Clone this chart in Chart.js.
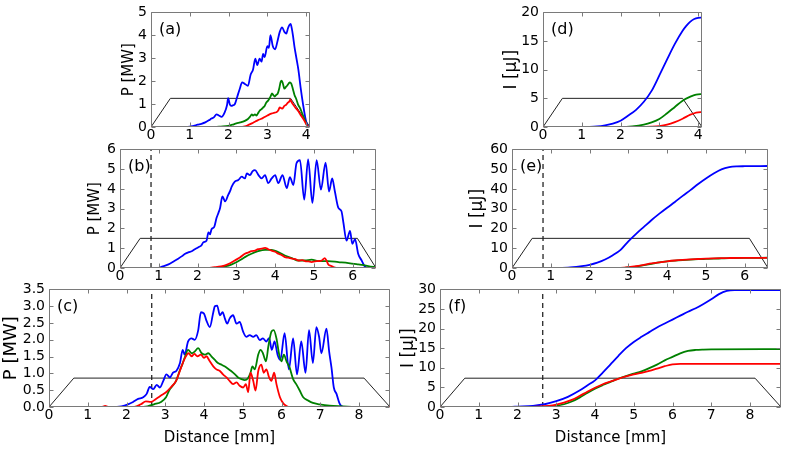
<!DOCTYPE html>
<html><head><meta charset="utf-8">
<script src="https://cdn.jsdelivr.net/npm/chart.js@4.4.0/dist/chart.umd.min.js"></script>
<style>
html,body{margin:0;padding:0;background:#fff;overflow:hidden;width:787px;height:449px;position:relative}
canvas{position:absolute}
</style></head><body>
<script>
// ---------- Panel (a): P [MW] ----------
const aBlueX = [0,0.95,1.1,1.2,1.3,1.4,1.5,1.56,1.62,1.69,1.75,1.82,1.9,1.96,1.99,2.03,2.07,2.12,2.16,2.22,2.29,2.35,2.42,2.5,2.57,2.63,2.69,2.74,2.8,2.85,2.89,2.93,3.0,3.04,3.08,3.14,3.2,3.26,3.32,3.38,3.44,3.49,3.53,3.57,3.6,3.63,3.66,3.7,3.75,3.8,3.86,3.92,3.98,4.04,4.1];
const aBlueY = [0,0,0.05,0.1,0.14,0.2,0.3,0.37,0.42,0.55,0.5,0.44,0.64,0.95,1.26,1.0,0.92,0.95,0.99,1.3,1.67,1.95,1.88,1.8,2.29,2.5,2.98,2.7,2.98,2.85,3.19,3.05,3.53,3.45,4.01,3.53,3.39,3.73,4.15,4.35,4.15,4.08,4.3,4.45,4.5,4.3,4.0,3.5,3.0,2.5,1.7,1.0,0.4,0.05,0];
const aGreenX = [0,1.65,1.8,1.99,2.1,2.2,2.3,2.42,2.5,2.55,2.6,2.63,2.68,2.72,2.76,2.8,2.85,2.89,2.93,2.97,3.02,3.06,3.1,3.12,3.16,3.19,3.23,3.27,3.31,3.34,3.37,3.4,3.44,3.48,3.51,3.55,3.58,3.62,3.66,3.7,3.75,3.79,3.85,3.92,3.98,4.04,4.1];
const aGreenY = [0,0,0.02,0.05,0.1,0.16,0.2,0.27,0.35,0.44,0.55,0.5,0.55,0.5,0.6,0.71,0.78,0.85,0.92,1.06,1.15,1.26,1.4,1.47,1.38,1.33,1.4,1.47,1.7,1.95,2.02,1.9,1.67,1.75,1.8,1.9,1.95,1.88,1.65,1.4,1.2,0.99,0.8,0.5,0.25,0.02,0];
const aRedX = [0,2.3,2.42,2.5,2.6,2.7,2.76,2.85,2.93,3.0,3.1,3.17,3.23,3.28,3.32,3.38,3.44,3.49,3.53,3.57,3.59,3.62,3.66,3.72,3.79,3.85,3.92,3.98,4.04,4.1];
const aRedY = [0,0,0.03,0.08,0.16,0.25,0.3,0.36,0.44,0.5,0.58,0.62,0.64,0.72,0.85,0.8,0.92,0.98,1.06,1.12,1.2,1.1,0.99,0.85,0.71,0.55,0.37,0.2,0.03,0];

// ---------- Panel (d): I [uJ] ----------
const dBlueX = [0,1.0,1.2,1.4,1.6,1.8,2.0,2.2,2.4,2.6,2.8,3.0,3.2,3.4,3.6,3.7,3.8,3.9,4.0,4.1];
const dBlueY = [0,0,0.02,0.1,0.3,0.6,1.1,2.0,3.0,4.4,6.3,9.0,11.8,14.5,16.8,17.7,18.4,18.85,19.05,19.1];
const dGreenX = [0,2.0,2.3,2.6,2.8,3.0,3.2,3.4,3.6,3.8,3.9,4.0,4.1];
const dGreenY = [0,0,0.1,0.4,0.8,1.4,2.4,3.5,4.6,5.3,5.55,5.7,5.75];
const dRedX = [0,2.5,2.8,3.0,3.2,3.4,3.6,3.8,3.9,4.0,4.1];
const dRedY = [0,0,0.05,0.15,0.4,0.85,1.45,2.15,2.4,2.55,2.6];

// ---------- Panel (b): P [MW] ----------
const bBlueX = [0,0.95,1.1,1.25,1.4,1.5,1.6,1.68,1.77,1.85,1.93,2.02,2.1,2.15,2.23,2.28,2.32,2.36,2.43,2.49,2.54,2.58,2.64,2.71,2.79,2.84,2.88,2.96,3.05,3.14,3.22,3.27,3.35,3.42,3.48,3.57,3.65,3.74,3.82,3.91,4.0,4.08,4.19,4.3,4.38,4.47,4.55,4.64,4.75,4.85,4.96,5.07,5.18,5.3,5.39,5.47,5.54,5.63,5.71,5.76,5.84,5.93,5.99,6.06,6.14,6.23,6.31,6.4,6.6];
const bBlueY = [0,0,0.08,0.18,0.35,0.47,0.6,0.72,0.8,0.85,0.95,1.05,1.15,1.3,1.38,1.8,1.7,1.96,2.08,2.54,2.8,3.04,3.62,3.37,3.7,3.9,4.12,4.37,4.45,4.62,4.53,4.78,4.7,4.9,4.95,4.7,4.53,4.7,4.29,4.53,4.7,4.29,4.7,4.04,4.6,4.2,5.3,5.45,3.46,5.5,3.29,5.45,3.96,5.33,3.87,4.53,3.87,3.04,2.87,2.29,1.38,1.88,1.22,1.46,0.72,0.38,0.08,0,0];
const bGreenX = [0,2.4,2.6,2.8,2.96,3.1,3.22,3.39,3.56,3.74,3.91,4.08,4.25,4.43,4.6,4.77,4.94,5.11,5.37,5.63,5.89,6.14,6.4,6.6];
const bGreenY = [0,0,0.05,0.12,0.25,0.4,0.55,0.72,0.85,0.92,0.92,0.8,0.63,0.5,0.38,0.38,0.42,0.35,0.35,0.3,0.25,0.18,0.1,0.03];
const bRedX = [0,2.25,2.45,2.6,2.71,2.85,2.96,3.1,3.22,3.3,3.39,3.48,3.56,3.65,3.74,3.82,3.91,4.0,4.08,4.17,4.25,4.34,4.43,4.52,4.6,4.7,4.77,4.86,4.94,5.03,5.11,5.2,5.28,5.33,5.37,5.45,5.5,5.63,6.6];
const bRedY = [0,0,0.04,0.08,0.13,0.25,0.38,0.55,0.72,0.78,0.85,0.88,0.95,0.98,1.02,0.95,0.88,0.82,0.72,0.65,0.55,0.52,0.47,0.45,0.38,0.4,0.35,0.33,0.3,0.34,0.35,0.38,0.5,0.35,0.18,0.1,0.05,0,0];

// ---------- Panel (e): I [uJ] ----------
const eBlueX = [0,1.0,1.2,1.5,1.8,2.0,2.2,2.4,2.6,2.8,3.0,3.2,3.4,3.6,3.8,4.0,4.2,4.4,4.6,4.8,5.0,5.2,5.4,5.6,5.8,6.0,6.6];
const eBlueY = [0,0,0.05,0.3,0.9,1.6,2.7,4.3,6.5,9.2,13.5,17.3,20.8,24.3,27.5,30.5,33.4,36.5,39.4,42.5,45.3,47.8,49.9,51.0,51.4,51.5,51.6];
const eGreenX = [0,2.5,2.9,3.0,3.2,3.4,3.6,3.8,4.0,4.2,4.4,4.6,4.8,5.0,5.2,5.4,5.6,6.0,6.6];
const eGreenY = [0,0,0.1,0.25,0.7,1.4,2.1,2.8,3.3,3.7,4.0,4.25,4.45,4.6,4.75,4.85,4.95,5.1,5.2];
const eRedX = [0,2.4,2.8,3.0,3.2,3.4,3.6,3.8,4.0,4.2,4.4,4.6,4.8,5.0,5.2,5.4,5.6,6.0,6.6];
const eRedY = [0,0,0.1,0.4,0.9,1.6,2.3,2.9,3.4,3.8,4.1,4.35,4.55,4.75,4.9,5.0,5.05,5.1,5.1];

// ---------- Panel (c): P [MW] ----------
const cBlueX = [0,1.6,1.87,2.04,2.17,2.3,2.43,2.52,2.6,2.69,2.78,2.86,2.95,3.03,3.12,3.2,3.29,3.38,3.45,3.5,3.59,3.68,3.76,3.85,3.92,4.0,4.06,4.15,4.24,4.28,4.34,4.41,4.48,4.54,4.6,4.66,4.75,4.84,4.92,5.01,5.09,5.18,5.27,5.35,5.44,5.52,5.61,5.68,5.75,5.82,5.9,5.97,6.08,6.19,6.3,6.4,6.51,6.62,6.71,6.81,6.9,6.97,7.03,7.16,7.23,7.29,7.35,7.42,7.5,7.59,8.8];
const cBlueY = [0,0,0.02,0.08,0.15,0.24,0.29,0.39,0.6,0.53,0.66,0.58,0.78,0.97,0.88,1.02,1.08,1.31,1.7,1.56,1.95,2.04,2.0,2.28,2.82,2.78,2.58,2.38,2.82,3.0,3.02,2.73,2.82,2.63,2.48,2.63,2.73,2.48,2.53,2.24,2.09,2.14,2.09,2.14,1.99,2.04,1.95,2.05,1.7,1.95,1.55,1.4,2.2,1.12,2.04,0.97,1.95,1.02,2.29,1.31,2.38,2.09,1.6,2.33,1.65,1.17,0.58,0.39,0.1,0,0];
const cGreenX = [0,2.3,2.54,2.71,2.89,3.02,3.1,3.19,3.28,3.38,3.45,3.5,3.59,3.68,3.76,3.85,3.94,4.02,4.11,4.19,4.28,4.36,4.45,4.53,4.62,4.7,4.8,4.88,4.97,5.05,5.13,5.2,5.25,5.31,5.4,5.46,5.52,5.6,5.66,5.74,5.8,5.87,5.94,6.0,6.06,6.13,6.21,6.3,6.38,6.47,6.56,6.69,6.81,6.98,7.24,7.59,7.9,8.8];
const cGreenY = [0,0,0.02,0.08,0.15,0.29,0.49,0.63,0.78,1.1,1.3,1.46,1.7,1.6,1.65,1.75,1.6,1.56,1.6,1.51,1.4,1.31,1.26,1.21,1.14,1.07,0.97,0.88,0.83,0.8,0.85,1.02,1.21,1.12,1.56,1.7,1.6,1.36,1.8,2.24,2.29,2.04,1.56,1.36,1.56,1.36,1.17,0.83,0.68,0.49,0.29,0.19,0.12,0.08,0.04,0.02,0,0];
const cRedX = [0,1.35,1.45,1.55,2.2,2.37,2.5,2.63,2.76,2.89,3.02,3.14,3.28,3.36,3.42,3.51,3.6,3.68,3.75,3.83,3.92,4.0,4.06,4.15,4.24,4.32,4.41,4.49,4.58,4.66,4.75,4.84,4.92,5.01,5.08,5.14,5.2,5.27,5.33,5.4,5.48,5.54,5.61,5.68,5.74,5.81,5.87,5.96,6.05,6.13,6.21,8.8];
const cRedY = [0,0,0.03,0,0,0.08,0.17,0.15,0.24,0.34,0.44,0.58,0.78,1.02,1.21,1.46,1.6,1.51,1.58,1.51,1.56,1.46,1.51,1.36,1.21,1.12,1.07,0.97,0.88,0.78,0.68,0.73,0.63,0.58,0.68,0.44,1.02,0.78,0.49,1.07,1.26,1.02,1.12,0.88,0.78,1.02,0.68,0.29,0.1,0.03,0,0];

// ---------- Panel (f): I [uJ] ----------
const fBlueX = [0,1.8,2.0,2.4,2.7,3.0,3.3,3.6,3.8,4.0,4.2,4.4,4.6,4.8,5.0,5.2,5.4,5.6,5.8,6.0,6.2,6.4,6.6,6.8,7.0,7.2,7.4,7.6,8.8];
const fBlueY = [0,0,0.1,0.3,0.7,1.5,2.6,4.2,5.5,6.8,8.8,10.9,13.0,15.0,16.6,17.9,19.1,20.3,21.3,22.3,23.3,24.3,25.2,26.3,27.5,28.8,29.6,29.8,29.8];
const fGreenX = [0,2.4,2.8,3.0,3.2,3.4,3.6,3.8,4.0,4.2,4.4,4.6,4.8,5.0,5.2,5.4,5.6,5.8,6.0,6.2,6.4,6.6,6.8,7.0,8.8];
const fGreenY = [0,0,0.1,0.3,0.7,1.4,2.4,3.6,4.7,5.6,6.4,7.2,7.9,8.5,9.1,9.9,10.8,11.9,12.8,13.7,14.3,14.55,14.65,14.7,14.75];
const fRedX = [0,2.2,2.5,2.8,3.0,3.2,3.4,3.6,3.8,4.0,4.2,4.4,4.6,4.8,5.0,5.2,5.4,5.6,5.8,6.0,6.2,8.8];
const fRedY = [0,0,0.1,0.3,0.6,1.1,1.8,2.8,3.9,4.9,5.8,6.5,7.2,7.8,8.3,8.7,9.2,9.8,10.4,10.9,11.0,11.0];

// ---------- Trapezoid (electrode profile) and dashed markers ----------
const trapAX = [0,0.5,3.6,4.1],   trapAY = [0,1.25,1.25,0];
const trapDX = [0,0.5,3.6,4.1],   trapDY = [0,5,5,0];
const trapBX = [0,0.52,6.12,6.6], trapBY = [0,1.5,1.5,0];
const trapEX = [0,0.52,6.12,6.6], trapEY = [0,15,15,0];
const trapCX = [0,0.64,8.13,8.8], trapCY = [0,0.86,0.86,0];
const trapFX = [0,0.64,8.13,8.8], trapFY = [0,7.35,7.35,0];
const dashB = [0.8];
const dashC = [2.65];

// ---------- Tick labels ----------
const xTicksA = [0,1,2,3,4];
const xTicksB = [0,1,2,3,4,5,6];
const xTicksC = [0,1,2,3,4,5,6,7,8];
const yTicksA = [0,1,2,3,4,5];
const yTicksD = [0,5,10,15,20];
const yTicksB = [0,1,2,3,4,5,6];
const yTicksE = [0,10,20,30,40,50,60];
const yTicksC = [0,0.5,1.0,1.5,2.0,2.5,3.0,3.5];
const yTicksF = [0,5,10,15,20,25,30];

const FONT = '"DejaVu Sans", sans-serif';
const pts = (xs, ys) => xs.map((x, i) => ({x: x, y: ys[i]}));

const framePlugin = {
  id: 'frame',
  afterDatasetsDraw(chart, args, opts) {
    const {ctx, chartArea: a, scales} = chart;
    ctx.save();
    ctx.strokeStyle = '#7a7a7a';
    ctx.lineWidth = 1;
    const L = Math.round(a.left) + 0.5, T = Math.round(a.top) + 0.5;
    const R = Math.round(a.right) - 0.5, B = Math.round(a.bottom) - 0.5;
    ctx.beginPath();
    ctx.rect(L, T, R - L, B - T);
    scales.x.ticks.forEach(t => {
      const p = Math.round(scales.x.getPixelForValue(t.value)) + 0.5;
      ctx.moveTo(p, B); ctx.lineTo(p, B - 4);
      ctx.moveTo(p, T); ctx.lineTo(p, T + 4);
    });
    scales.y.ticks.forEach(t => {
      const p = Math.round(scales.y.getPixelForValue(t.value)) + 0.5;
      ctx.moveTo(L, p); ctx.lineTo(L + 4, p);
      ctx.moveTo(R, p); ctx.lineTo(R - 4, p);
    });
    ctx.stroke();
    ctx.fillStyle = '#000';
    ctx.font = '16px ' + FONT;
    ctx.textBaseline = 'alphabetic';
    ctx.textAlign = 'left';
    ctx.fillText(opts.label, a.left + 8, a.top + 22);
    ctx.restore();
  }
};

function makePanel(p) {
  const padTop = p.padTop, padRight = 5;
  const cv = document.createElement('canvas');
  const w = p.yW + p.w + padRight, h = padTop + p.h + p.xH;
  cv.width = w; cv.height = h;
  cv.style.left = (p.left - p.yW) + 'px';
  cv.style.top = (p.top - padTop) + 'px';
  cv.style.width = w + 'px'; cv.style.height = h + 'px';
  document.body.appendChild(cv);

  const lineDs = (data, color) => ({
    data: data, borderColor: color, borderWidth: 1.8, pointRadius: 0,
    fill: false, cubicInterpolationMode: 'monotone'
  });
  const datasets = [
    lineDs(pts(p.red[0], p.red[1]), '#ff0000'),
    lineDs(pts(p.green[0], p.green[1]), '#008000'),
    lineDs(pts(p.blue[0], p.blue[1]), '#0000ff'),
    {data: pts(p.trap[0], p.trap[1]), borderColor: '#222', borderWidth: 1, pointRadius: 0, tension: 0}
  ];
  if (p.dash) {
    datasets.push({data: [{x: p.dash[0], y: 0}, {x: p.dash[0], y: p.yTicks[p.yTicks.length - 1]}],
      borderColor: '#333', borderWidth: 1.4, borderDash: [5, 4], pointRadius: 0});
  }
  const tickFont = {family: FONT, size: 14};
  new Chart(cv, {
    type: 'line',
    data: {datasets: datasets},
    options: {
      responsive: false, animation: false, devicePixelRatio: 1,
      layout: {autoPadding: false, padding: {top: padTop, right: padRight, left: 0, bottom: 0}},
      plugins: {legend: {display: false}, tooltip: {enabled: false}, frame: {label: p.label}},
      scales: {
        x: {
          type: 'linear', min: 0, max: p.xMax,
          grid: {display: false, drawTicks: false}, border: {display: false},
          afterBuildTicks: s => { s.ticks = p.xTicks.map(v => ({value: v})); },
          afterFit: s => { s.height = p.xH; },
          ticks: {font: tickFont, color: '#000', padding: 0, maxRotation: 0, autoSkip: false,
                  callback: v => String(v)},
          title: {display: !!p.xTitle, text: p.xTitle || '', font: {family: FONT, size: 15}, color: '#000', padding: {top: 0, bottom: 2}}
        },
        y: {
          type: 'linear', min: 0, max: p.yTicks[p.yTicks.length - 1],
          grid: {display: false, drawTicks: false}, border: {display: false},
          afterBuildTicks: s => { s.ticks = p.yTicks.map(v => ({value: v})); },
          afterFit: s => { s.width = p.yW; },
          ticks: {font: tickFont, color: '#000', padding: 4, autoSkip: false,
                  callback: v => p.yDec ? v.toFixed(1) : String(v)},
          title: {display: true, text: p.yTitle, font: {family: FONT, size: p.yTitleSize}, color: '#000', padding: 0}
        }
      }
    },
    plugins: [framePlugin]
  });
}

makePanel({label: '(a)', left: 151, top: 6, w: 159, h: 121, yW: 31, xH: 20, padTop: 6,
  xMax: 4.1, xTicks: xTicksA, yTicks: yTicksA, yTitle: 'P [MW]', yTitleSize: 15,
  blue: [aBlueX, aBlueY], green: [aGreenX, aGreenY], red: [aRedX, aRedY], trap: [trapAX, trapAY]});
makePanel({label: '(d)', left: 543, top: 6, w: 159, h: 121, yW: 42, xH: 20, padTop: 6,
  xMax: 4.1, xTicks: xTicksA, yTicks: yTicksD, yTitle: 'I [μJ]', yTitleSize: 17,
  blue: [dBlueX, dBlueY], green: [dGreenX, dGreenY], red: [dRedX, dRedY], trap: [trapDX, trapDY]});
makePanel({label: '(b)', left: 120, top: 147, w: 256, h: 121, yW: 34, xH: 20, padTop: 10,
  xMax: 6.6, xTicks: xTicksB, yTicks: yTicksB, yTitle: 'P [MW]', yTitleSize: 15, dash: dashB,
  blue: [bBlueX, bBlueY], green: [bGreenX, bGreenY], red: [bRedX, bRedY], trap: [trapBX, trapBY]});
makePanel({label: '(e)', left: 512, top: 147, w: 256, h: 121, yW: 45, xH: 20, padTop: 10,
  xMax: 6.6, xTicks: xTicksB, yTicks: yTicksE, yTitle: 'I [μJ]', yTitleSize: 17, dash: dashB,
  blue: [eBlueX, eBlueY], green: [eGreenX, eGreenY], red: [eRedX, eRedY], trap: [trapEX, trapEY]});
makePanel({label: '(c)', left: 49, top: 287, w: 341, h: 120, yW: 48, xH: 42, padTop: 10,
  xMax: 8.8, xTicks: xTicksC, yTicks: yTicksC, yDec: true, yTitle: 'P [MW]', yTitleSize: 18, xTitle: 'Distance [mm]', dash: dashC,
  blue: [cBlueX, cBlueY], green: [cGreenX, cGreenY], red: [cRedX, cRedY], trap: [trapCX, trapCY]});
makePanel({label: '(f)', left: 440, top: 287, w: 341, h: 120, yW: 42, xH: 42, padTop: 10,
  xMax: 8.8, xTicks: xTicksC, yTicks: yTicksF, yTitle: 'I [μJ]', yTitleSize: 17, xTitle: 'Distance [mm]', dash: dashC,
  blue: [fBlueX, fBlueY], green: [fGreenX, fGreenY], red: [fRedX, fRedY], trap: [trapFX, trapFY]});
</script>
</body></html>
